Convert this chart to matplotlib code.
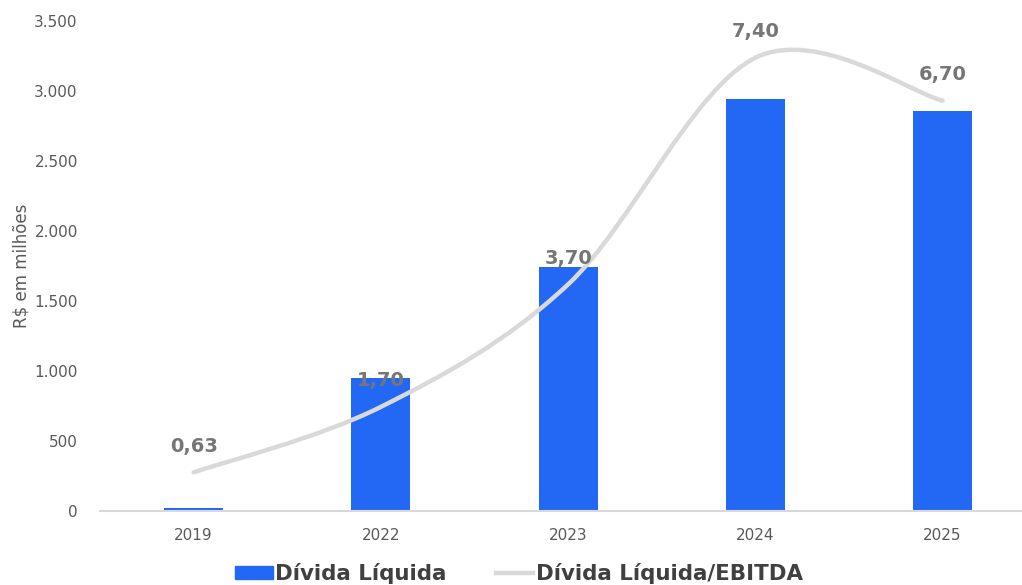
import matplotlib.pyplot as plt
import matplotlib.patches as mpatches
from matplotlib.lines import Line2D
from matplotlib.path import Path
import numpy as np

# Dados: dívida líquida (R$ milhões) e alavancagem
anos = ['2019', '2022', '2023', '2024', '2025']
divida_liquida = [18, 950, 1745, 2945, 2855]
alavancagem = [0.63, 1.70, 3.70, 7.40, 6.70]
rotulos_alav = ['0,63', '1,70', '3,70', '7,40', '6,70']

AZUL = '#2368F5'
CINZA_LINHA = '#D9D9D9'
CINZA_TEXTO = '#595959'
CINZA_ROTULO = '#767676'

plt.rcParams['font.family'] = ['DejaVu Sans']

fig = plt.figure(figsize=(10.22, 5.85), dpi=100)
ax = fig.add_axes([100 / 1022, 1 - 511 / 585, 922 / 1022, 490 / 585])

x = np.arange(len(anos))
ax.bar(x, divida_liquida, width=0.315, color=AZUL, zorder=2)

ax.set_xlim(-0.5, -0.5 + 922 / 187.25)
ax.set_ylim(0, 3500)
ax.set_yticks(range(0, 3501, 500))
ax.set_yticklabels([f'{v:,}'.replace(',', '.') for v in range(0, 3501, 500)])
ax.set_xticks(x)
ax.set_xticklabels(anos)
ax.tick_params(axis='both', length=0, labelsize=11, colors=CINZA_TEXTO)
ax.tick_params(axis='y', pad=16)
ax.tick_params(axis='x', pad=12)
for s in ['top', 'right', 'left']:
    ax.spines[s].set_visible(False)
ax.spines['bottom'].set_color(CINZA_LINHA)
ax.spines['bottom'].set_linewidth(1.5)
ax.set_ylabel('R$ em milhões', fontsize=12, color=CINZA_TEXTO, labelpad=3)

# Eixo secundário (oculto) para a alavancagem, com linha suavizada
ax2 = ax.twinx()
ax2.set_ylim(0, 8.0)
ax2.axis('off')

pts = np.column_stack([x, alavancagem])
ext = np.vstack([pts[0], pts, pts[-1]])
verts = [tuple(pts[0])]
codes = [Path.MOVETO]
for i in range(len(pts) - 1):
    p0, p1, p2, p3 = ext[i], ext[i + 1], ext[i + 2], ext[i + 3]
    c1 = p1 + (p2 - p0) / 6
    c2 = p2 - (p3 - p1) / 6
    verts += [tuple(c1), tuple(c2), tuple(p2)]
    codes += [Path.CURVE4] * 3
curva = mpatches.PathPatch(Path(verts, codes), facecolor='none', edgecolor=CINZA_LINHA,
                           linewidth=3.2, capstyle='round', zorder=3)
ax2.add_patch(curva)

for xi, yi, txt in zip(x, alavancagem, rotulos_alav):
    ax2.annotate(txt, (xi, yi), xytext=(0, 26), textcoords='offset pixels',
                 ha='center', va='center', fontsize=14, fontweight='bold', color=CINZA_ROTULO, zorder=4)

handles = [mpatches.Patch(color=AZUL, label='Dívida Líquida'),
           Line2D([], [], color=CINZA_LINHA, linewidth=3.2, label='Dívida Líquida/EBITDA')]
leg = fig.legend(handles=handles, loc='center', bbox_to_anchor=(519 / 1022, 1 - 574 / 585),
                 ncol=2, frameon=False, handlelength=1.75, handleheight=0.55, handletextpad=0.12,
                 columnspacing=2.3, prop={'size': 15.4, 'weight': 'bold'})
for t in leg.get_texts():
    t.set_color('#404040')

fig.savefig('out.png', dpi=100)
